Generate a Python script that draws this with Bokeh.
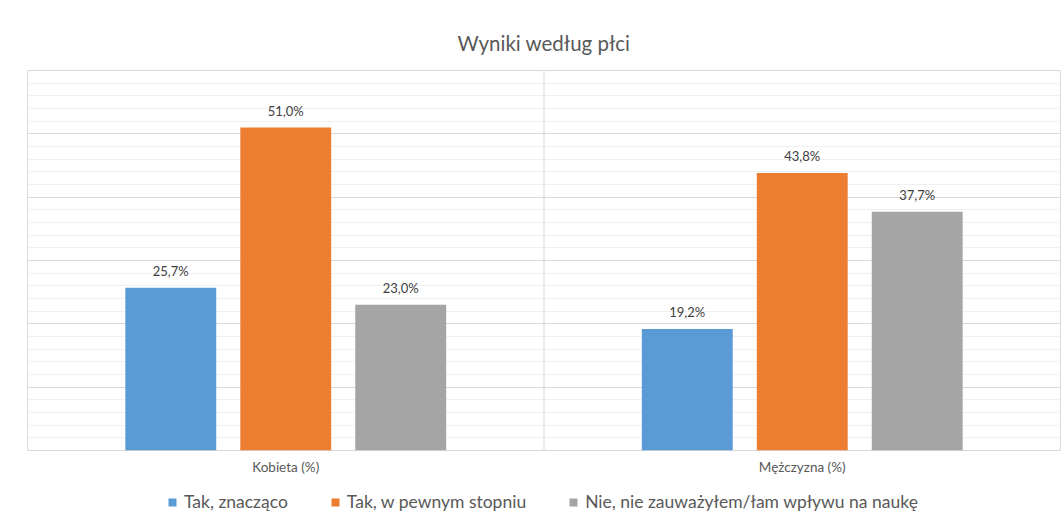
from bokeh.plotting import figure
from bokeh.layouts import column
from bokeh.models import (ColumnDataSource, FactorRange, Range1d, SingleIntervalTicker,
                          LabelSet, Legend, LegendItem, Span)
from bokeh.transform import dodge
from bokeh.embed import file_html
from bokeh.resources import INLINE
from bokeh.core.properties import value

categories = ["Kobieta (%)", "Mężczyzna (%)"]
series_names = ["Tak, znacząco", "Tak, w pewnym stopniu", "Nie, nie zauważyłem/łam wpływu na naukę"]
tak_znaczaco = [25.7, 19.2]
tak_w_pewnym = [51.0, 43.8]
nie_zauwazylem = [23.0, 37.7]
colors = ["#5B9BD5", "#ED7D31", "#A5A5A5"]
title_text = "Wyniki według płci"

FONT = "Lato"
series_values = [tak_znaczaco, tak_w_pewnym, nie_zauwazylem]

def fmt(v):
    return ("%.1f%%" % v).replace(".", ",")

p = figure(x_range=FactorRange(factors=categories, range_padding=0),
           y_range=Range1d(0, 60),
           width=1064, height=478, output_backend="svg", toolbar_location=None,
           min_border_left=27, min_border_right=4, min_border_top=70, min_border_bottom=28)

p.title.text = title_text
p.title.align = "center"
p.title.text_font = FONT
p.title.text_font_size = "20.5px"
p.title.text_font_style = "normal"
p.title.text_color = "#595959"
p.title.standoff = 32

p.outline_line_color = "#d9d9d9"
p.background_fill_color = "white"
p.border_fill_color = "white"

p.yaxis.visible = False
p.xgrid.grid_line_color = None
p.ygrid.ticker = SingleIntervalTicker(interval=10, num_minor_ticks=5)
p.ygrid.grid_line_color = "#d9d9d9"
p.ygrid.minor_grid_line_color = "#f0f0f0"

p.xaxis.axis_line_color = None
p.xaxis.major_tick_line_color = None
p.xaxis.minor_tick_line_color = None
p.xaxis.major_tick_out = 0
p.xaxis.major_tick_in = 0
p.xaxis.major_label_standoff = 8
p.xaxis.major_label_text_font = FONT
p.xaxis.major_label_text_font_size = "13.5px"
p.xaxis.major_label_text_color = "#595959"

p.add_layout(Span(location=1, dimension="height", line_color="#d9d9d9", line_width=1))

# legend strip below the chart (its renderers are hidden; only the legend shows)
lf = figure(width=1064, height=44, output_backend="svg", toolbar_location=None,
            x_range=FactorRange(factors=categories, range_padding=0), y_range=Range1d(1000, 1001),
            min_border_left=0, min_border_right=0, min_border_top=0, min_border_bottom=0)
lf.axis.visible = False
lf.grid.visible = False
lf.outline_line_color = None
lf.background_fill_color = "white"
lf.border_fill_color = "white"

offsets = [-0.2226, 0.0, 0.2226]
bar_w = 0.176
items = []
for name, vals, col, off in zip(series_names, series_values, colors, offsets):
    src = ColumnDataSource(dict(cat=categories, val=vals, lab=[fmt(v) for v in vals]))
    p.vbar(x=dodge("cat", off, range=p.x_range), top="val", width=bar_w, source=src,
           fill_color=col, line_color=None)
    p.add_layout(LabelSet(x=dodge("cat", off, range=p.x_range), y="val", text="lab", source=src,
                          text_align="center", text_baseline="bottom", y_offset=9,
                          text_font=value(FONT), text_font_size="13px", text_color="#404040"))
    r = lf.vbar(x=dodge("cat", off, range=lf.x_range), top="val", width=bar_w, source=src,
                fill_color=col, line_color=None)
    r.visible = False
    items.append(LegendItem(label=name, renderers=[r]))

legend = Legend(items=items, orientation="horizontal", location=(140, 10),
                label_text_font=FONT, label_text_font_size="17.5px", label_text_color="#595959",
                glyph_width=10, glyph_height=10, label_standoff=7, spacing=42,
                border_line_color=None, background_fill_alpha=0, margin=0, padding=0,
                inactive_fill_alpha=0)
lf.add_layout(legend)

layout = column(p, lf, spacing=0)
open("out.html", "w").write(file_html(layout, INLINE))
